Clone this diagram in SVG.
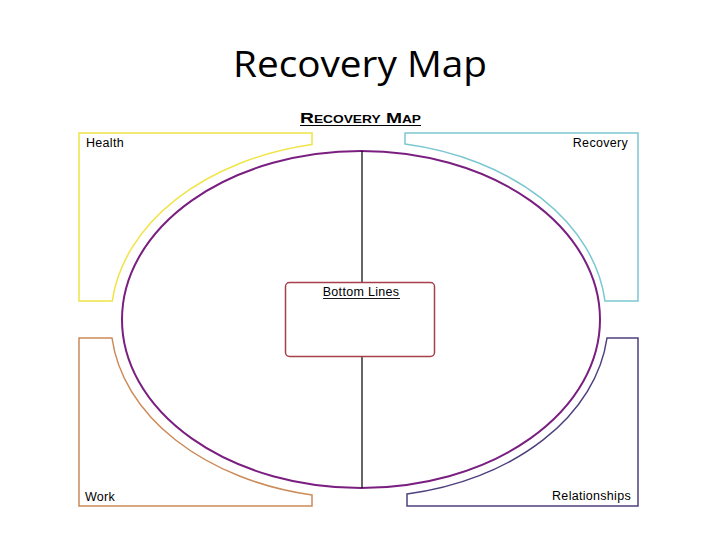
<svg xmlns="http://www.w3.org/2000/svg" width="720" height="540" viewBox="0 0 720 540">
<style>
.q{fill:none;stroke-width:1.5}
.lbl{font-family:"Liberation Sans",Arial,sans-serif;font-size:12.5px;letter-spacing:0.3px;fill:#000}
</style>
<rect width="720" height="540" fill="#fff"/>
<text x="360" y="77" text-anchor="middle" font-family="'Open Sans','Liberation Sans',sans-serif" font-size="37" fill="#000" textLength="254" lengthAdjust="spacingAndGlyphs">Recovery Map</text>
<g id="header">
<text x="300" y="123" font-family="'Liberation Sans',sans-serif" font-weight="bold" font-size="14" style="font-variant:small-caps" textLength="121" lengthAdjust="spacingAndGlyphs" fill="#000">Recovery Map</text>
<line x1="300" y1="125.5" x2="421" y2="125.5" stroke="#000" stroke-width="1.2"/>
</g>
<g id="health">
<path class="q" stroke="#f0e446" d="M79,133 H312 V144.5 A250,178 0 0 0 112.3,301 H79 Z"/>
<text class="lbl" x="86" y="147">Health</text>
</g>
<g id="recovery">
<path class="q" stroke="#7cc8d0" d="M638,133 H405 V144 A246,177 0 0 1 605,301 H638 Z"/>
<text class="lbl" x="628" y="147" text-anchor="end">Recovery</text>
</g>
<g id="work">
<path class="q" stroke="#cc8a58" d="M79,338 H112 A250,178 0 0 0 312,495 V506 H79 Z"/>
<text class="lbl" x="85" y="501">Work</text>
</g>
<g id="relationships">
<path class="q" stroke="#4e3f7e" d="M638,338 H607 A246,177 0 0 1 407,494 V506 H638 Z"/>
<text class="lbl" x="631" y="500" text-anchor="end">Relationships</text>
</g>
<g id="connectors">
<ellipse cx="361" cy="319.5" rx="239" ry="168.5" fill="none" stroke="#7a1f80" stroke-width="2"/>
<line x1="362" y1="151" x2="362" y2="283" stroke="#000" stroke-width="1.2"/>
<line x1="362" y1="357" x2="362" y2="488" stroke="#000" stroke-width="1.2"/>
</g>
<g id="bottom-lines">
<rect x="285.5" y="282.5" width="149" height="74" rx="4" fill="#fff" stroke="#a8404c" stroke-width="1.5"/>
<text class="lbl" x="361" y="296" text-anchor="middle">Bottom Lines</text>
<line x1="323" y1="298.5" x2="400" y2="298.5" stroke="#000" stroke-width="0.9"/>
</g>
</svg>
